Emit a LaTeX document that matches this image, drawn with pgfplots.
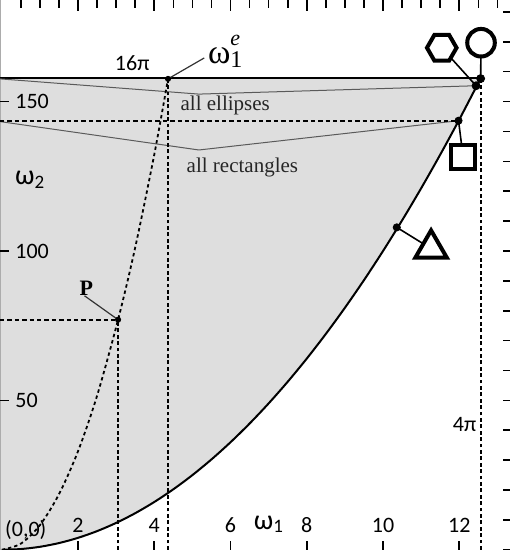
\documentclass[border=0pt]{standalone}
\usepackage{pgfplots}
\pgfplotsset{compat=1.18}
\usepackage{fontspec}
\setmainfont{Carlito}
\newfontfamily\timesf{Liberation Serif}
\definecolor{fillgray}{RGB}{222,222,222}
\definecolor{wedge}{RGB}{90,90,90}
\pgfdeclareplotmark{hexagon}{%
  \pgfpathmoveto{\pgfqpoint{\pgfplotmarksize}{0pt}}%
  \pgfpathlineto{\pgfqpoint{0.5\pgfplotmarksize}{0.866\pgfplotmarksize}}%
  \pgfpathlineto{\pgfqpoint{-0.5\pgfplotmarksize}{0.866\pgfplotmarksize}}%
  \pgfpathlineto{\pgfqpoint{-\pgfplotmarksize}{0pt}}%
  \pgfpathlineto{\pgfqpoint{-0.5\pgfplotmarksize}{-0.866\pgfplotmarksize}}%
  \pgfpathlineto{\pgfqpoint{0.5\pgfplotmarksize}{-0.866\pgfplotmarksize}}%
  \pgfpathclose
  \pgfusepathqfillstroke
}
\newcommand{\tl}{\fontsize{11}{13}\selectfont}
\begin{document}
\begin{tikzpicture}
\pgfplotsset{
  common/.style={at={(0,0)}, anchor=south west, scale only axis,
    width=255pt, height=275pt,
    xmin=-0.047, xmax=13.33, ymin=-0.07, ymax=184,
    axis line style={draw=none}, tick align=inside,
    tick style={black, line width=0.8pt}, clip=false},
}
% top ticks
\begin{axis}[common, xtick={2,4,...,12}, minor xtick={0.5,1,...,13},
  xtick pos=top, xticklabels={}, ytick=\empty,
  major tick length=5.5pt, minor tick length=3.8pt]
\end{axis}
% right ticks
\begin{axis}[common, xtick=\empty, ytick={0,10,...,180}, ytick pos=right,
  yticklabels={}, major tick length=3.5pt]
\end{axis}
% main
\begin{axis}[common, name=main, axis on top,
  xtick={2,4,...,12}, xtick pos=bottom,
  ytick={50,100,150}, ytick pos=left,
  major tick length=4.5pt,
  /pgf/number format/assume math mode=true,
  xticklabel style={anchor=base, yshift=8.5pt, font=\tl},
  yticklabel style={anchor=west, inner sep=0pt, xshift=7.5pt, font=\tl},
]
% shaded region
\addplot[fill=fillgray, draw=none] coordinates {
 (0,0) (0.5,0.25) (1,1) (1.5,2.25) (2,4) (2.5,6.25) (3,9) (3.5,12.25)
 (4,16) (4.5,20.25) (5,25) (5.5,30.25) (6,36) (6.5,42.25) (7,49)
 (7.5,56.25) (8,64) (8.5,72.25) (9,81) (9.5,90.25) (10,100)
 (10.5,110.25) (11,121) (11.5,132.25) (12,144) (12.566,157.9)
 (-0.047,157.9) (-0.047,0)} -- cycle;
\draw[gray!65, line width=0.9pt] (rel axis cs:0,0) -- (rel axis cs:0,1);
% top line
\addplot[black, line width=0.8pt] coordinates {(-0.047,157.9) (12.566,157.9)};
% wedges
\addplot[wedge, line width=0.5pt] coordinates {(-0.047,157.6) (5.17,152.5) (12.44,155.3)};
\addplot[wedge, line width=0.5pt] coordinates {(-0.047,143.3) (5.17,133.8) (11.98,143.6)};
% dashed lines
\addplot[black, line width=0.8pt, dash pattern=on 2.2pt off 1.5pt] coordinates {(-0.047,143.4) (11.98,143.4)};
\addplot[black, line width=0.8pt, dash pattern=on 2.2pt off 1.5pt] coordinates {(-0.047,77.0) (3.05,77.0)};
\addplot[black, line width=0.9pt, dash pattern=on 1.9pt off 1.3pt] coordinates {(12.566,0) (12.566,157.0)};
\addplot[black, line width=0.9pt, dash pattern=on 1.9pt off 1.3pt] coordinates {(4.36,0) (4.36,157.6)};
\addplot[black, line width=0.9pt, dash pattern=on 1.9pt off 1.3pt] coordinates {(3.05,0) (3.05,77.0)};
% dotted curve
\addplot[black, line width=0.9pt, dash pattern=on 1.7pt off 1.5pt, smooth] coordinates {
 (0,0) (0.5,2.06) (1,8.25) (1.5,18.6) (2,33.0) (2.5,51.6) (3.05,77.0)
 (3.5,101.2) (4,132.3) (4.36,157.6)};
% boundary curve
\addplot[black, line width=1pt, smooth] coordinates {
 (0,0) (0.5,0.25) (1,1) (1.5,2.25) (2,4) (2.5,6.25) (3,9) (3.5,12.25)
 (4,16) (4.5,20.25) (5,25) (5.5,30.25) (6,36) (6.5,42.25) (7,49)
 (7.5,56.25) (8,64) (8.5,72.25) (9,81) (9.5,90.25) (10,100)
 (10.5,110.25) (11,121) (11.5,132.25) (12,144) (12.566,157.9)};
% connectors
\addplot[black, line width=0.8pt] coordinates {(12.56,157.7) (12.57,169.7)};
\addplot[black, line width=0.8pt] coordinates {(12.44,155.3) (11.54,168.0)};
\addplot[black, line width=0.8pt] coordinates {(11.98,143.6) (12.10,131.5)};
\addplot[black, line width=0.8pt] coordinates {(10.36,107.9) (11.26,100.8)};
\addplot[black!80, line width=0.6pt] coordinates {(2.17,85.0) (3.05,77.0)};
\addplot[black!80, line width=0.6pt] coordinates {(5.31,164.6) (4.36,157.6)};
% dots
\addplot[only marks, mark=*, mark size=2pt, black] coordinates {(12.56,157.7) (12.44,155.3)};
\addplot[only marks, mark=*, mark size=1.8pt, black] coordinates {(11.98,143.6) (10.36,107.9)};
\addplot[only marks, mark=*, mark size=1.3pt, black] coordinates {(3.05,77.0) (4.36,157.6)};
% shapes
\addplot[only marks, mark=*, mark size=6.9pt, mark options={fill=white, draw=black, line width=2pt}] coordinates {(12.57,169.7)};
\addplot[only marks, mark=hexagon, mark size=7.4pt, mark options={fill=white, draw=black, line width=2pt}] coordinates {(11.54,168.0)};
\addplot[only marks, mark=square*, mark size=5.9pt, mark options={fill=white, draw=black, line width=2pt}] coordinates {(12.10,131.5)};
\addplot[only marks, mark=triangle*, mark size=9.1pt, mark options={fill=white, draw=black, line width=2pt}] coordinates {(11.26,100.8)};
% labels
\node[font=\tl, inner sep=0pt] at (axis cs:3.42,162.8) {16π};
\node[font=\tl, inner sep=0pt] at (axis cs:12.14,42.0) {4π};
\node[font=\tl, inner sep=0pt] at (axis cs:0.63,6.7) {(0,0)};
\node[anchor=base west, inner sep=0pt, font=\fontsize{14}{16}\selectfont] at (axis cs:0.34,122.1) {ω\raisebox{-0.25ex}{\fontsize{9.5}{10}\selectfont 2}};
\node[anchor=base west, inner sep=0pt, font=\fontsize{14}{16}\selectfont] at (axis cs:6.60,6.8) {ω\raisebox{-0.25ex}{\fontsize{9.5}{10}\selectfont 1}};
\node[anchor=base west, inner sep=0pt, font=\timesf\fontsize{17}{18}\selectfont] at (axis cs:5.40,162.6) {ω\rlap{\raisebox{1.2ex}{\itshape\fontsize{11}{11}\selectfont e}}\raisebox{-0.2ex}{\fontsize{12}{12}\selectfont 1}};
\node[anchor=base west, inner sep=0pt, text=black!85, font=\timesf\fontsize{10.5}{12}\selectfont] at (axis cs:4.68,146.9) {all ellipses};
\node[anchor=base west, inner sep=0pt, text=black!85, font=\timesf\fontsize{10.5}{12}\selectfont] at (axis cs:4.84,126.1) {all rectangles};
\node[anchor=base west, inner sep=0pt, font=\timesf\bfseries\fontsize{11}{12}\selectfont] at (axis cs:2.03,85.0) {P};
\end{axis}
\pgfresetboundingbox
\path[use as bounding box] (main.south west) rectangle (main.north east);
\end{tikzpicture}
\end{document}
